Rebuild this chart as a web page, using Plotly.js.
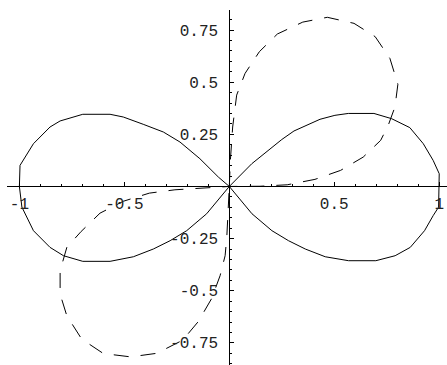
<!DOCTYPE html>
<html>
<head>
<meta charset="utf-8">
<script src="https://cdn.plot.ly/plotly-3.0.1.min.js"></script>
<style>
  html, body { margin: 0; padding: 0; background: #fff; }
  #chart { width: 447px; height: 365px; }
</style>
</head>
<body>
<div id="chart"></div>
<script>
// Lemniscate (solid), traced lobe by lobe through the origin
const lemX = [
  0, 0.107, 0.250, 0.308, 0.432, 0.503, 0.567, 0.689, 0.773, 0.860, 0.924, 0.971, 1.0, 1.0,
  0.997, 0.971, 0.930, 0.862, 0.790, 0.698, 0.568, 0.457, 0.362, 0.282, 0.203, 0.108, 0,
  -0.052, -0.140, -0.235, -0.314, -0.410, -0.505, -0.568, -0.698, -0.806, -0.854, -0.933, -0.997, -1.0,
  -0.988, -0.933, -0.854, -0.790, -0.698, -0.568, -0.457, -0.362, -0.282, -0.203, -0.108, 0
];
const lemY = [
  0, 0.109, 0.225, 0.266, 0.322, 0.341, 0.350, 0.350, 0.325, 0.282, 0.205, 0.125, 0.061, 0,
  -0.099, -0.140, -0.212, -0.292, -0.332, -0.356, -0.356, -0.337, -0.300, -0.260, -0.212, -0.131, 0,
  0.045, 0.133, 0.213, 0.261, 0.298, 0.333, 0.346, 0.346, 0.314, 0.285, 0.205, 0.101, 0,
  -0.099, -0.212, -0.292, -0.332, -0.359, -0.359, -0.337, -0.300, -0.260, -0.212, -0.131, 0
];

// Second curve (dashed): one loop in the first quadrant, one in the third
const loopX = [
  0, 0.005, 0.016, 0.035, 0.075, 0.143, 0.229, 0.350, 0.467, 0.594, 0.695, 0.765, 0.803,
  0.789, 0.757, 0.721, 0.638, 0.530, 0.408, 0.276, 0.146, 0,
  -0.259, -0.381, -0.505, -0.616, -0.706, -0.774, -0.806, -0.806, -0.774, -0.703, -0.600,
  -0.470, -0.346, -0.222, -0.148, -0.084, -0.044, -0.020, -0.012, 0
];
const loopY = [
  0, 0.125, 0.285, 0.438, 0.542, 0.646, 0.731, 0.788, 0.811, 0.782, 0.718, 0.614, 0.490,
  0.381, 0.293, 0.221, 0.141, 0.077, 0.034, 0.008, 0.001, 0,
  -0.016, -0.032, -0.071, -0.128, -0.216, -0.292, -0.404, -0.516, -0.620, -0.732, -0.801,
  -0.817, -0.800, -0.737, -0.648, -0.537, -0.428, -0.332, -0.244, 0
];

// Axis tick labels
const xTickVals = [-1, -0.5, 0.5, 1];
const xTickText = ['-1', '-0.5', '0.5', '1'];
const yTickVals = [-0.75, -0.5, -0.25, 0.25, 0.5, 0.75];
const yTickText = ['-0.75', '-0.5', '-0.25', '0.25', '0.5', '0.75'];

const xRange = [-1.059, 1.037];
const yRange = [-0.856, 0.846];

const traces = [
  {
    x: lemX, y: lemY, type: 'scatter', mode: 'lines',
    line: { color: '#000', width: 1 }, hoverinfo: 'skip'
  },
  {
    x: loopX, y: loopY, type: 'scatter', mode: 'lines',
    line: { color: '#000', width: 1, dash: '15px,12px' }, hoverinfo: 'skip'
  }
];

const tickFont = { family: 'Liberation Mono, DejaVu Sans Mono, monospace', size: 16, color: '#222' };

const layout = {
  width: 447, height: 365,
  margin: { l: 7, r: 0, t: 10, b: 0, pad: 0 },
  paper_bgcolor: '#fff', plot_bgcolor: '#fff',
  showlegend: false,
  xaxis: {
    range: xRange, anchor: 'free',
    position: (0 - yRange[0]) / (yRange[1] - yRange[0]),
    showline: true, linecolor: '#000', linewidth: 1,
    showgrid: false, zeroline: false,
    tickmode: 'array', tickvals: xTickVals, ticktext: xTickText,
    ticks: 'inside', ticklen: 4, tickwidth: 1, tickcolor: '#000',
    tickfont: tickFont, ticklabelstandoff: 2,
    minor: { ticks: 'inside', ticklen: 2, tickmode: 'linear', tick0: 0, dtick: 0.1, tickcolor: '#000', showgrid: false }
  },
  yaxis: {
    range: yRange, anchor: 'free',
    position: (0 - xRange[0]) / (xRange[1] - xRange[0]),
    showline: true, linecolor: '#000', linewidth: 1,
    showgrid: false, zeroline: false,
    tickmode: 'array', tickvals: yTickVals, ticktext: yTickText,
    ticks: 'inside', ticklen: 4, tickwidth: 1, tickcolor: '#000',
    tickfont: tickFont, ticklabelstandoff: 8,
    minor: { ticks: 'inside', ticklen: 2, tickmode: 'linear', tick0: 0, dtick: 0.05, tickcolor: '#000', showgrid: false }
  }
};

Plotly.newPlot('chart', traces, layout, { staticPlot: true, displayModeBar: false });
</script>
</body>
</html>
